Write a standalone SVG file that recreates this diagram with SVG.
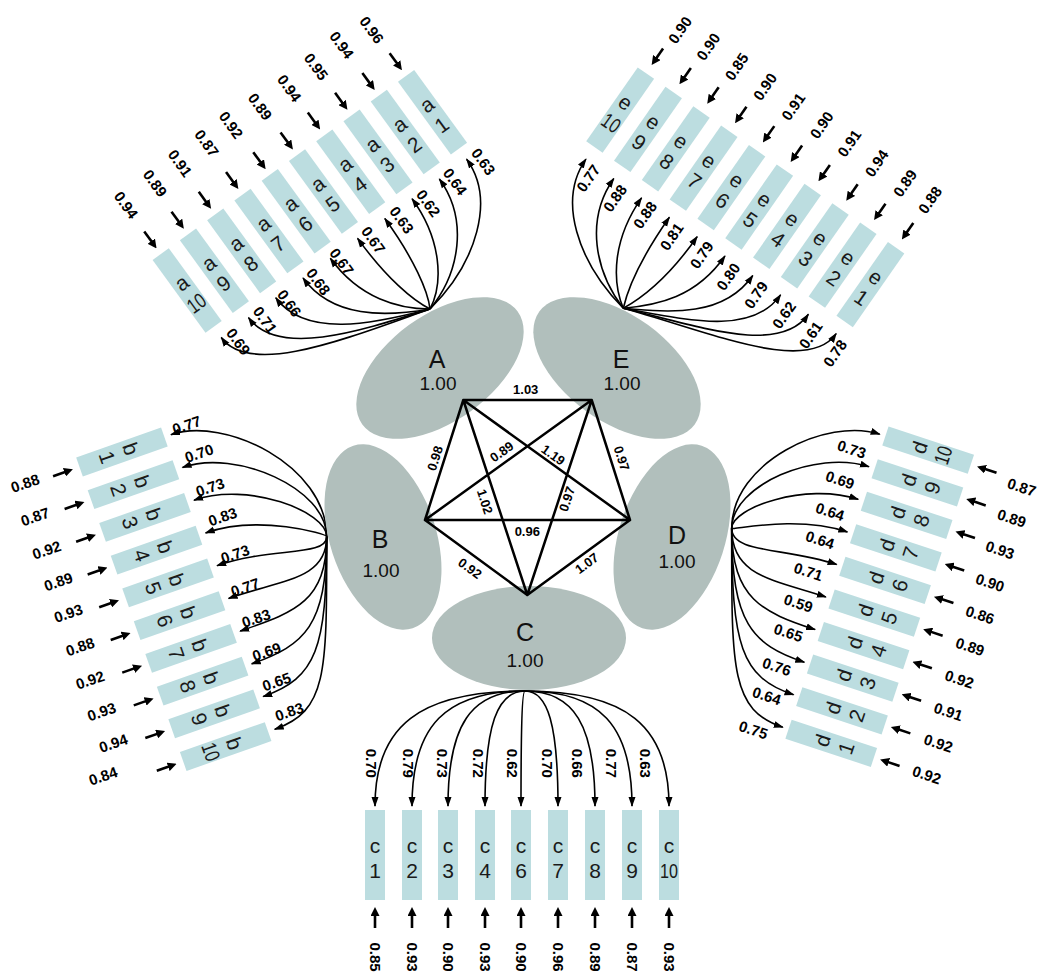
<svg xmlns="http://www.w3.org/2000/svg" width="1042" height="974" viewBox="0 0 1042 974">
<defs>
<style>
.box{fill:#bcdde0}
.lat{fill:#b1bfbc}
.bt{font-family:"Liberation Sans",Arial,sans-serif;font-size:21px;fill:#1a1a1a;text-anchor:middle}
.ld{fill:none;stroke:#000;stroke-width:1.6;marker-end:url(#ah)}
.er{fill:none;stroke:#000;stroke-width:2.6;marker-end:url(#eh)}
.edge{fill:none;stroke:#000;stroke-width:2.5;stroke-linecap:round}
.num{font-family:"Liberation Sans",Arial,sans-serif;font-size:15px;font-weight:bold;text-anchor:middle;fill:#000}
.pn{font-size:13px}
.ln{font-family:"Liberation Sans",Arial,sans-serif;font-size:25px;text-anchor:middle;fill:#111}
.lv{font-size:19px}
</style>
<marker id="ah" viewBox="0 0 10 8" markerWidth="10" markerHeight="8" refX="9" refY="4" orient="auto" markerUnits="userSpaceOnUse"><path d="M0,0.5 L10,4 L0,7.5 z"/></marker>
<marker id="eh" viewBox="0 0 9 9" markerWidth="9" markerHeight="9" refX="3" refY="4.5" orient="auto" markerUnits="userSpaceOnUse"><path d="M0,0 L9,4.5 L0,9 z"/></marker>
</defs>
<rect width="1042" height="974" fill="#fff"/>

<!-- connectors: loading curves, error arrows, latent correlations -->
<g id="connectors">
  <g id="load-A" transform="translate(430,309) rotate(144)">
    <path class="ld" d="M0,0 C-64.7,10 -117.7,49.9 -117.7,99.7"/>
    <path class="ld" d="M0,0 C-45.3,11.6 -84,49.9 -84,99.7"/>
    <path class="ld" d="M0,0 C-26.6,13.3 -50.3,49.9 -50.3,99.7"/>
    <path class="ld" d="M0,0 C-8.6,15 -16.6,49.9 -16.6,99.7"/>
    <path class="ld" d="M0,0 C8.7,16.6 17.1,49.9 17.1,99.7"/>
    <path class="ld" d="M0,0 C25.1,18.3 50.8,49.9 50.8,99.7"/>
    <path class="ld" d="M0,0 C40.8,19.9 84.5,49.9 84.5,99.7"/>
    <path class="ld" d="M0,0 C55.8,21.6 118.2,49.9 118.2,99.7"/>
    <path class="ld" d="M0,0 C70,23.3 151.9,49.9 151.9,99.7"/>
    <path class="ld" d="M0,0 C83.5,24.9 185.6,49.9 185.6,99.7"/>
    <path class="er" d="M-117.7,230.7 V215.7"/>
    <path class="er" d="M-84,230.7 V215.7"/>
    <path class="er" d="M-50.3,230.7 V215.7"/>
    <path class="er" d="M-16.6,230.7 V215.7"/>
    <path class="er" d="M17.1,230.7 V215.7"/>
    <path class="er" d="M50.8,230.7 V215.7"/>
    <path class="er" d="M84.5,230.7 V215.7"/>
    <path class="er" d="M118.2,230.7 V215.7"/>
    <path class="er" d="M151.9,230.7 V215.7"/>
    <path class="er" d="M185.6,230.7 V215.7"/>
  </g>
  <g id="load-E" transform="translate(623.3,308.3) rotate(-145.1)">
    <path class="ld" d="M0,0 C-85.1,30.3 -189.1,50.5 -189.1,101"/>
    <path class="ld" d="M0,0 C-71.5,28.3 -155.2,50.5 -155.2,101"/>
    <path class="ld" d="M0,0 C-57.3,26.3 -121.3,50.5 -121.3,101"/>
    <path class="ld" d="M0,0 C-42.2,24.2 -87.4,50.5 -87.4,101"/>
    <path class="ld" d="M0,0 C-26.4,22.2 -53.5,50.5 -53.5,101"/>
    <path class="ld" d="M0,0 C-9.9,20.2 -19.6,50.5 -19.6,101"/>
    <path class="ld" d="M0,0 C7.4,18.2 14.3,50.5 14.3,101"/>
    <path class="ld" d="M0,0 C25.4,16.2 48.2,50.5 48.2,101"/>
    <path class="ld" d="M0,0 C44.3,14.1 82.1,50.5 82.1,101"/>
    <path class="ld" d="M0,0 C63.8,12.1 116,50.5 116,101"/>
    <path class="er" d="M-189.1,235.8 V221.8"/>
    <path class="er" d="M-155.2,235.8 V221.8"/>
    <path class="er" d="M-121.3,235.8 V221.8"/>
    <path class="er" d="M-87.4,235.8 V221.8"/>
    <path class="er" d="M-53.5,235.8 V221.8"/>
    <path class="er" d="M-19.6,235.8 V221.8"/>
    <path class="er" d="M14.3,235.8 V221.8"/>
    <path class="er" d="M48.2,235.8 V221.8"/>
    <path class="er" d="M82.1,235.8 V221.8"/>
    <path class="er" d="M116,235.8 V221.8"/>
  </g>
  <g id="load-B" transform="translate(326.7,536.7) rotate(70.6)">
    <path class="ld" d="M0,0 C-67.3,-23.7 -147.9,56.5 -147.9,113"/>
    <path class="ld" d="M0,0 C-45.7,-16.1 -113.2,56.5 -113.2,113"/>
    <path class="ld" d="M0,0 C-24.1,-8.5 -78.5,56.5 -78.5,113"/>
    <path class="ld" d="M0,0 C-2.5,-0.9 -43.8,56.5 -43.8,113"/>
    <path class="ld" d="M0,0 C19.1,6.7 -9.1,56.5 -9.1,113"/>
    <path class="ld" d="M0,0 C40.7,14.3 25.6,56.5 25.6,113"/>
    <path class="ld" d="M0,0 C62.3,22 60.3,56.5 60.3,113"/>
    <path class="ld" d="M0,0 C83.9,29.6 95,56.5 95,113"/>
    <path class="ld" d="M0,0 C105.5,37.2 129.7,56.5 129.7,113"/>
    <path class="ld" d="M0,0 C127.2,44.8 164.4,56.5 164.4,113"/>
    <path class="er" d="M-147.9,238 V223"/>
    <path class="er" d="M-113.2,238 V223"/>
    <path class="er" d="M-78.5,238 V223"/>
    <path class="er" d="M-43.8,238 V223"/>
    <path class="er" d="M-9.1,238 V223"/>
    <path class="er" d="M25.6,238 V223"/>
    <path class="er" d="M60.3,238 V223"/>
    <path class="er" d="M95,238 V223"/>
    <path class="er" d="M129.7,238 V223"/>
    <path class="er" d="M164.4,238 V223"/>
  </g>
  <g id="load-D" transform="translate(731.7,528.3) rotate(-71.7)">
    <path class="ld" d="M0,0 C-132.3,43.7 -172.9,55.5 -172.9,111"/>
    <path class="ld" d="M0,0 C-110.6,36.6 -138.6,55.5 -138.6,111"/>
    <path class="ld" d="M0,0 C-89,29.4 -104.3,55.5 -104.3,111"/>
    <path class="ld" d="M0,0 C-67.3,22.3 -70,55.5 -70,111"/>
    <path class="ld" d="M0,0 C-45.7,15.1 -35.7,55.5 -35.7,111"/>
    <path class="ld" d="M0,0 C-24,7.9 -1.4,55.5 -1.4,111"/>
    <path class="ld" d="M0,0 C-2.4,0.8 32.9,55.5 32.9,111"/>
    <path class="ld" d="M0,0 C19.3,-6.4 67.2,55.5 67.2,111"/>
    <path class="ld" d="M0,0 C40.9,-13.5 101.5,55.5 101.5,111"/>
    <path class="ld" d="M0,0 C62.6,-20.7 135.8,55.5 135.8,111"/>
    <path class="er" d="M-172.9,234 V219.5"/>
    <path class="er" d="M-138.6,234 V219.5"/>
    <path class="er" d="M-104.3,234 V219.5"/>
    <path class="er" d="M-70,234 V219.5"/>
    <path class="er" d="M-35.7,234 V219.5"/>
    <path class="er" d="M-1.4,234 V219.5"/>
    <path class="er" d="M32.9,234 V219.5"/>
    <path class="er" d="M67.2,234 V219.5"/>
    <path class="er" d="M101.5,234 V219.5"/>
    <path class="er" d="M135.8,234 V219.5"/>
  </g>
  <g id="load-C">
    <path class="ld" d="M525,691 C420,691 375,725.5 375,806"/>
    <path class="ld" d="M525,691 C445.9,691 412,725.5 412,806"/>
    <path class="ld" d="M525,691 C471.1,691 448,725.5 448,806"/>
    <path class="ld" d="M525,691 C497,691 485,725.5 485,806"/>
    <path class="ld" d="M525,691 C522.2,691 521,725.5 521,806"/>
    <path class="ld" d="M525,691 C548.1,691 558,725.5 558,806"/>
    <path class="ld" d="M525,691 C574,691 595,725.5 595,806"/>
    <path class="ld" d="M525,691 C599.9,691 632,725.5 632,806"/>
    <path class="ld" d="M525,691 C625.8,691 669,725.5 669,806"/>
    <path class="er" d="M375,928 V913"/>
    <path class="er" d="M412,928 V913"/>
    <path class="er" d="M448,928 V913"/>
    <path class="er" d="M485,928 V913"/>
    <path class="er" d="M521,928 V913"/>
    <path class="er" d="M558,928 V913"/>
    <path class="er" d="M595,928 V913"/>
    <path class="er" d="M632,928 V913"/>
    <path class="er" d="M669,928 V913"/>
  </g>
</g>

<!-- latent factors -->
<g id="latents">
  <g id="A"><ellipse class="lat" cx="440" cy="368" rx="96" ry="53" transform="rotate(-36 440 368)"/><text class="ln" x="437" y="368">A</text><text class="ln lv" x="438" y="390">1.00</text></g>
  <g id="E"><ellipse class="lat" cx="617" cy="368" rx="96" ry="53" transform="rotate(36 617 368)"/><text class="ln" x="621" y="368">E</text><text class="ln lv" x="622" y="390">1.00</text></g>
  <g id="B"><ellipse class="lat" cx="383" cy="537" rx="96" ry="53" transform="rotate(72 383 537)"/><text class="ln" x="380" y="548">B</text><text class="ln lv" x="381" y="577">1.00</text></g>
  <g id="D"><ellipse class="lat" cx="672" cy="537" rx="96" ry="53" transform="rotate(-72 672 537)"/><text class="ln" x="677" y="544">D</text><text class="ln lv" x="677" y="568">1.00</text></g>
  <g id="C"><ellipse class="lat" cx="529" cy="638" rx="97" ry="52"/><text class="ln" x="525" y="641">C</text><text class="ln lv" x="525" y="667">1.00</text></g>
</g>

<!-- correlations between factors -->
<g id="correlations">
  <path class="edge" d="M463.3,400 L591.7,400 M463.3,400 L425,520 M463.3,400 L527.3,595 M463.3,400 L630,520 M591.7,400 L425,520 M591.7,400 L527.3,595 M591.7,400 L630,520 M425,520 L630,520 M425,520 L527.3,595 M527.3,595 L630,520"/>
  <text class="num pn" transform="translate(525.7,389.3)" dy="0.35em">1.03</text>
  <text class="num pn" transform="translate(435,458.3) rotate(-72.3)" dy="0.35em">0.98</text>
  <text class="num pn" transform="translate(501.7,451.7) rotate(-35.8)" dy="0.35em">0.89</text>
  <text class="num pn" transform="translate(553.3,455) rotate(35.8)" dy="0.35em">1.19</text>
  <text class="num pn" transform="translate(621.7,458.3) rotate(72.3)" dy="0.35em">0.97</text>
  <text class="num pn" transform="translate(485,501.7) rotate(71.8)" dy="0.35em">1.02</text>
  <text class="num pn" transform="translate(567,499) rotate(-71.7)" dy="0.35em">0.97</text>
  <text class="num pn" transform="translate(527.3,531.7)" dy="0.35em">0.96</text>
  <text class="num pn" transform="translate(470,568.3) rotate(36.2)" dy="0.35em">0.92</text>
  <text class="num pn" transform="translate(586.7,563.3) rotate(-36.1)" dy="0.35em">1.07</text>
</g>

<!-- indicator boxes -->
<g id="indicators-A" transform="translate(430,309) rotate(144)">
  <g id="a1" transform="translate(-117.7,157.7) rotate(180)"><rect class="box" x="-10" y="-45" width="20" height="90"/><text class="bt" y="-2">a</text><text class="bt" y="23">1</text></g>
  <g id="a2" transform="translate(-84,157.7) rotate(180)"><rect class="box" x="-10" y="-45" width="20" height="90"/><text class="bt" y="-2">a</text><text class="bt" y="23">2</text></g>
  <g id="a3" transform="translate(-50.3,157.7) rotate(180)"><rect class="box" x="-10" y="-45" width="20" height="90"/><text class="bt" y="-2">a</text><text class="bt" y="23">3</text></g>
  <g id="a4" transform="translate(-16.6,157.7) rotate(180)"><rect class="box" x="-10" y="-45" width="20" height="90"/><text class="bt" y="-2">a</text><text class="bt" y="23">4</text></g>
  <g id="a5" transform="translate(17.1,157.7) rotate(180)"><rect class="box" x="-10" y="-45" width="20" height="90"/><text class="bt" y="-2">a</text><text class="bt" y="23">5</text></g>
  <g id="a6" transform="translate(50.8,157.7) rotate(180)"><rect class="box" x="-10" y="-45" width="20" height="90"/><text class="bt" y="-2">a</text><text class="bt" y="23">6</text></g>
  <g id="a7" transform="translate(84.5,157.7) rotate(180)"><rect class="box" x="-10" y="-45" width="20" height="90"/><text class="bt" y="-2">a</text><text class="bt" y="23">7</text></g>
  <g id="a8" transform="translate(118.2,157.7) rotate(180)"><rect class="box" x="-10" y="-45" width="20" height="90"/><text class="bt" y="-2">a</text><text class="bt" y="23">8</text></g>
  <g id="a9" transform="translate(151.9,157.7) rotate(180)"><rect class="box" x="-10" y="-45" width="20" height="90"/><text class="bt" y="-2">a</text><text class="bt" y="23">9</text></g>
  <g id="a10" transform="translate(185.6,157.7) rotate(180)"><rect class="box" x="-10" y="-45" width="20" height="90"/><text class="bt" y="-2">a</text><text class="bt" y="23" textLength="18" lengthAdjust="spacingAndGlyphs">10</text></g>
</g>
<g id="indicators-E" transform="translate(623.3,308.3) rotate(-145.1)">
  <g id="e1" transform="translate(-189.1,160.8) rotate(180)"><rect class="box" x="-10" y="-45" width="20" height="90"/><text class="bt" y="-2">e</text><text class="bt" y="23">1</text></g>
  <g id="e2" transform="translate(-155.2,160.8) rotate(180)"><rect class="box" x="-10" y="-45" width="20" height="90"/><text class="bt" y="-2">e</text><text class="bt" y="23">2</text></g>
  <g id="e3" transform="translate(-121.3,160.8) rotate(180)"><rect class="box" x="-10" y="-45" width="20" height="90"/><text class="bt" y="-2">e</text><text class="bt" y="23">3</text></g>
  <g id="e4" transform="translate(-87.4,160.8) rotate(180)"><rect class="box" x="-10" y="-45" width="20" height="90"/><text class="bt" y="-2">e</text><text class="bt" y="23">4</text></g>
  <g id="e5" transform="translate(-53.5,160.8) rotate(180)"><rect class="box" x="-10" y="-45" width="20" height="90"/><text class="bt" y="-2">e</text><text class="bt" y="23">5</text></g>
  <g id="e6" transform="translate(-19.6,160.8) rotate(180)"><rect class="box" x="-10" y="-45" width="20" height="90"/><text class="bt" y="-2">e</text><text class="bt" y="23">6</text></g>
  <g id="e7" transform="translate(14.3,160.8) rotate(180)"><rect class="box" x="-10" y="-45" width="20" height="90"/><text class="bt" y="-2">e</text><text class="bt" y="23">7</text></g>
  <g id="e8" transform="translate(48.2,160.8) rotate(180)"><rect class="box" x="-10" y="-45" width="20" height="90"/><text class="bt" y="-2">e</text><text class="bt" y="23">8</text></g>
  <g id="e9" transform="translate(82.1,160.8) rotate(180)"><rect class="box" x="-10" y="-45" width="20" height="90"/><text class="bt" y="-2">e</text><text class="bt" y="23">9</text></g>
  <g id="e10" transform="translate(116,160.8) rotate(180)"><rect class="box" x="-10" y="-45" width="20" height="90"/><text class="bt" y="-2">e</text><text class="bt" y="23" textLength="18" lengthAdjust="spacingAndGlyphs">10</text></g>
</g>
<g id="indicators-B" transform="translate(326.7,536.7) rotate(70.6)">
  <g id="b1" transform="translate(-147.9,165)"><rect class="box" x="-10" y="-45" width="20" height="90"/><text class="bt" y="-2">b</text><text class="bt" y="23">1</text></g>
  <g id="b2" transform="translate(-113.2,165)"><rect class="box" x="-10" y="-45" width="20" height="90"/><text class="bt" y="-2">b</text><text class="bt" y="23">2</text></g>
  <g id="b3" transform="translate(-78.5,165)"><rect class="box" x="-10" y="-45" width="20" height="90"/><text class="bt" y="-2">b</text><text class="bt" y="23">3</text></g>
  <g id="b4" transform="translate(-43.8,165)"><rect class="box" x="-10" y="-45" width="20" height="90"/><text class="bt" y="-2">b</text><text class="bt" y="23">4</text></g>
  <g id="b5" transform="translate(-9.1,165)"><rect class="box" x="-10" y="-45" width="20" height="90"/><text class="bt" y="-2">b</text><text class="bt" y="23">5</text></g>
  <g id="b6" transform="translate(25.6,165)"><rect class="box" x="-10" y="-45" width="20" height="90"/><text class="bt" y="-2">b</text><text class="bt" y="23">6</text></g>
  <g id="b7" transform="translate(60.3,165)"><rect class="box" x="-10" y="-45" width="20" height="90"/><text class="bt" y="-2">b</text><text class="bt" y="23">7</text></g>
  <g id="b8" transform="translate(95,165)"><rect class="box" x="-10" y="-45" width="20" height="90"/><text class="bt" y="-2">b</text><text class="bt" y="23">8</text></g>
  <g id="b9" transform="translate(129.7,165)"><rect class="box" x="-10" y="-45" width="20" height="90"/><text class="bt" y="-2">b</text><text class="bt" y="23">9</text></g>
  <g id="b10" transform="translate(164.4,165)"><rect class="box" x="-10" y="-45" width="20" height="90"/><text class="bt" y="-2">b</text><text class="bt" y="23" textLength="18" lengthAdjust="spacingAndGlyphs">10</text></g>
</g>
<g id="indicators-D" transform="translate(731.7,528.3) rotate(-71.7)">
  <g id="d1" transform="translate(-172.9,162)"><rect class="box" x="-10" y="-45" width="20" height="90"/><text class="bt" y="-2">d</text><text class="bt" y="23">1</text></g>
  <g id="d2" transform="translate(-138.6,162)"><rect class="box" x="-10" y="-45" width="20" height="90"/><text class="bt" y="-2">d</text><text class="bt" y="23">2</text></g>
  <g id="d3" transform="translate(-104.3,162)"><rect class="box" x="-10" y="-45" width="20" height="90"/><text class="bt" y="-2">d</text><text class="bt" y="23">3</text></g>
  <g id="d4" transform="translate(-70,162)"><rect class="box" x="-10" y="-45" width="20" height="90"/><text class="bt" y="-2">d</text><text class="bt" y="23">4</text></g>
  <g id="d5" transform="translate(-35.7,162)"><rect class="box" x="-10" y="-45" width="20" height="90"/><text class="bt" y="-2">d</text><text class="bt" y="23">5</text></g>
  <g id="d6" transform="translate(-1.4,162)"><rect class="box" x="-10" y="-45" width="20" height="90"/><text class="bt" y="-2">d</text><text class="bt" y="23">6</text></g>
  <g id="d7" transform="translate(32.9,162)"><rect class="box" x="-10" y="-45" width="20" height="90"/><text class="bt" y="-2">d</text><text class="bt" y="23">7</text></g>
  <g id="d8" transform="translate(67.2,162)"><rect class="box" x="-10" y="-45" width="20" height="90"/><text class="bt" y="-2">d</text><text class="bt" y="23">8</text></g>
  <g id="d9" transform="translate(101.5,162)"><rect class="box" x="-10" y="-45" width="20" height="90"/><text class="bt" y="-2">d</text><text class="bt" y="23">9</text></g>
  <g id="d10" transform="translate(135.8,162)"><rect class="box" x="-10" y="-45" width="20" height="90"/><text class="bt" y="-2">d</text><text class="bt" y="23" textLength="18" lengthAdjust="spacingAndGlyphs">10</text></g>
</g>
<g id="indicators-C">
  <g id="c1" transform="translate(375,855)"><rect class="box" x="-10" y="-45" width="20" height="90"/><text class="bt" y="-2">c</text><text class="bt" y="23">1</text></g>
  <g id="c2" transform="translate(412,855)"><rect class="box" x="-10" y="-45" width="20" height="90"/><text class="bt" y="-2">c</text><text class="bt" y="23">2</text></g>
  <g id="c3" transform="translate(448,855)"><rect class="box" x="-10" y="-45" width="20" height="90"/><text class="bt" y="-2">c</text><text class="bt" y="23">3</text></g>
  <g id="c4" transform="translate(485,855)"><rect class="box" x="-10" y="-45" width="20" height="90"/><text class="bt" y="-2">c</text><text class="bt" y="23">4</text></g>
  <g id="c6" transform="translate(521,855)"><rect class="box" x="-10" y="-45" width="20" height="90"/><text class="bt" y="-2">c</text><text class="bt" y="23">6</text></g>
  <g id="c7" transform="translate(558,855)"><rect class="box" x="-10" y="-45" width="20" height="90"/><text class="bt" y="-2">c</text><text class="bt" y="23">7</text></g>
  <g id="c8" transform="translate(595,855)"><rect class="box" x="-10" y="-45" width="20" height="90"/><text class="bt" y="-2">c</text><text class="bt" y="23">8</text></g>
  <g id="c9" transform="translate(632,855)"><rect class="box" x="-10" y="-45" width="20" height="90"/><text class="bt" y="-2">c</text><text class="bt" y="23">9</text></g>
  <g id="c10" transform="translate(669,855)"><rect class="box" x="-10" y="-45" width="20" height="90"/><text class="bt" y="-2">c</text><text class="bt" y="23" textLength="18" lengthAdjust="spacingAndGlyphs">10</text></g>
</g>

<!-- loading and error values -->
<g id="values">
  <!-- factor A -->
  <text class="num" transform="translate(483.3,161.7) rotate(54)" dy="0.35em">0.63</text>
  <text class="num" transform="translate(455,181.7) rotate(54)" dy="0.35em">0.64</text>
  <text class="num" transform="translate(428.3,203.3) rotate(54)" dy="0.35em">0.62</text>
  <text class="num" transform="translate(401.7,220) rotate(54)" dy="0.35em">0.63</text>
  <text class="num" transform="translate(373.3,240) rotate(54)" dy="0.35em">0.67</text>
  <text class="num" transform="translate(341.7,261.7) rotate(54)" dy="0.35em">0.67</text>
  <text class="num" transform="translate(318.3,281.7) rotate(54)" dy="0.35em">0.68</text>
  <text class="num" transform="translate(289.3,303.3) rotate(54)" dy="0.35em">0.66</text>
  <text class="num" transform="translate(265,320) rotate(54)" dy="0.35em">0.71</text>
  <text class="num" transform="translate(238.3,341.7) rotate(54)" dy="0.35em">0.69</text>
  <text class="num" transform="translate(371.7,30) rotate(54)" dy="0.35em">0.96</text>
  <text class="num" transform="translate(341.7,45) rotate(54)" dy="0.35em">0.94</text>
  <text class="num" transform="translate(316,66.7) rotate(54)" dy="0.35em">0.95</text>
  <text class="num" transform="translate(289.3,88.3) rotate(54)" dy="0.35em">0.94</text>
  <text class="num" transform="translate(260,106.7) rotate(54)" dy="0.35em">0.89</text>
  <text class="num" transform="translate(231,125) rotate(54)" dy="0.35em">0.92</text>
  <text class="num" transform="translate(206.7,143.3) rotate(54)" dy="0.35em">0.87</text>
  <text class="num" transform="translate(180,163.3) rotate(54)" dy="0.35em">0.91</text>
  <text class="num" transform="translate(155,183.3) rotate(54)" dy="0.35em">0.89</text>
  <text class="num" transform="translate(126,205) rotate(54)" dy="0.35em">0.94</text>
  <!-- factor E -->
  <text class="num" transform="translate(588.3,178.3) rotate(-55)" dy="0.35em">0.77</text>
  <text class="num" transform="translate(615,198.3) rotate(-55)" dy="0.35em">0.88</text>
  <text class="num" transform="translate(645,215) rotate(-55)" dy="0.35em">0.88</text>
  <text class="num" transform="translate(671.7,236.7) rotate(-55)" dy="0.35em">0.81</text>
  <text class="num" transform="translate(701.7,255) rotate(-55)" dy="0.35em">0.79</text>
  <text class="num" transform="translate(728.3,276.7) rotate(-55)" dy="0.35em">0.80</text>
  <text class="num" transform="translate(756,295) rotate(-55)" dy="0.35em">0.79</text>
  <text class="num" transform="translate(784,315) rotate(-55)" dy="0.35em">0.62</text>
  <text class="num" transform="translate(810.7,335) rotate(-55)" dy="0.35em">0.61</text>
  <text class="num" transform="translate(835,353.3) rotate(-55)" dy="0.35em">0.78</text>
  <text class="num" transform="translate(680,30) rotate(-55)" dy="0.35em">0.90</text>
  <text class="num" transform="translate(708.3,46.7) rotate(-55)" dy="0.35em">0.90</text>
  <text class="num" transform="translate(736.7,66.7) rotate(-55)" dy="0.35em">0.85</text>
  <text class="num" transform="translate(765,86.7) rotate(-55)" dy="0.35em">0.90</text>
  <text class="num" transform="translate(793.3,106.7) rotate(-55)" dy="0.35em">0.91</text>
  <text class="num" transform="translate(821.7,125) rotate(-55)" dy="0.35em">0.90</text>
  <text class="num" transform="translate(849.3,143.3) rotate(-55)" dy="0.35em">0.91</text>
  <text class="num" transform="translate(876.7,163.3) rotate(-55)" dy="0.35em">0.94</text>
  <text class="num" transform="translate(905,183.3) rotate(-55)" dy="0.35em">0.89</text>
  <text class="num" transform="translate(930,200) rotate(-55)" dy="0.35em">0.88</text>
  <!-- factor B -->
  <text class="num" transform="translate(186.7,425) rotate(-19)" dy="0.35em">0.77</text>
  <text class="num" transform="translate(199,453.3) rotate(-19)" dy="0.35em">0.70</text>
  <text class="num" transform="translate(210,487.3) rotate(-19)" dy="0.35em">0.73</text>
  <text class="num" transform="translate(222.7,516.7) rotate(-19)" dy="0.35em">0.83</text>
  <text class="num" transform="translate(235,554) rotate(-19)" dy="0.35em">0.73</text>
  <text class="num" transform="translate(245,587.3) rotate(-19)" dy="0.35em">0.77</text>
  <text class="num" transform="translate(256,618.3) rotate(-19)" dy="0.35em">0.83</text>
  <text class="num" transform="translate(266.7,651.7) rotate(-19)" dy="0.35em">0.69</text>
  <text class="num" transform="translate(276.7,681.7) rotate(-19)" dy="0.35em">0.65</text>
  <text class="num" transform="translate(289.3,711.7) rotate(-19)" dy="0.35em">0.83</text>
  <text class="num" transform="translate(25,483.3) rotate(-19)" dy="0.35em">0.88</text>
  <text class="num" transform="translate(35,516.7) rotate(-19)" dy="0.35em">0.87</text>
  <text class="num" transform="translate(46.7,550) rotate(-19)" dy="0.35em">0.92</text>
  <text class="num" transform="translate(58.3,581.7) rotate(-19)" dy="0.35em">0.89</text>
  <text class="num" transform="translate(68.3,613.3) rotate(-19)" dy="0.35em">0.93</text>
  <text class="num" transform="translate(80,646.7) rotate(-19)" dy="0.35em">0.88</text>
  <text class="num" transform="translate(90,680) rotate(-19)" dy="0.35em">0.92</text>
  <text class="num" transform="translate(101.7,711.7) rotate(-19)" dy="0.35em">0.93</text>
  <text class="num" transform="translate(113.3,743.3) rotate(-19)" dy="0.35em">0.94</text>
  <text class="num" transform="translate(103,776) rotate(-19)" dy="0.35em">0.84</text>
  <!-- factor D -->
  <text class="num" transform="translate(851.7,449.3) rotate(18)" dy="0.35em">0.73</text>
  <text class="num" transform="translate(840,480) rotate(18)" dy="0.35em">0.69</text>
  <text class="num" transform="translate(830,511.7) rotate(18)" dy="0.35em">0.64</text>
  <text class="num" transform="translate(820,540) rotate(18)" dy="0.35em">0.64</text>
  <text class="num" transform="translate(808.3,571.7) rotate(18)" dy="0.35em">0.71</text>
  <text class="num" transform="translate(798.3,603.3) rotate(18)" dy="0.35em">0.59</text>
  <text class="num" transform="translate(788.3,632.7) rotate(18)" dy="0.35em">0.65</text>
  <text class="num" transform="translate(776.7,666.7) rotate(18)" dy="0.35em">0.76</text>
  <text class="num" transform="translate(766.7,696) rotate(18)" dy="0.35em">0.64</text>
  <text class="num" transform="translate(753.3,730) rotate(18)" dy="0.35em">0.75</text>
  <text class="num" transform="translate(1021.7,487.3) rotate(18)" dy="0.35em">0.87</text>
  <text class="num" transform="translate(1011.7,518.3) rotate(18)" dy="0.35em">0.89</text>
  <text class="num" transform="translate(1000,550) rotate(18)" dy="0.35em">0.93</text>
  <text class="num" transform="translate(990,582.7) rotate(18)" dy="0.35em">0.90</text>
  <text class="num" transform="translate(980,615) rotate(18)" dy="0.35em">0.86</text>
  <text class="num" transform="translate(970,646.7) rotate(18)" dy="0.35em">0.89</text>
  <text class="num" transform="translate(959.3,679.3) rotate(18)" dy="0.35em">0.92</text>
  <text class="num" transform="translate(948.3,711.7) rotate(18)" dy="0.35em">0.91</text>
  <text class="num" transform="translate(938.3,743.3) rotate(18)" dy="0.35em">0.92</text>
  <text class="num" transform="translate(926.7,775) rotate(18)" dy="0.35em">0.92</text>
  <!-- factor C -->
  <text class="num" transform="translate(371.7,763.3) rotate(90)" dy="0.35em">0.70</text>
  <text class="num" transform="translate(408.3,763.3) rotate(90)" dy="0.35em">0.79</text>
  <text class="num" transform="translate(442.3,763.3) rotate(90)" dy="0.35em">0.73</text>
  <text class="num" transform="translate(478.3,763.3) rotate(90)" dy="0.35em">0.72</text>
  <text class="num" transform="translate(512.3,763.3) rotate(90)" dy="0.35em">0.62</text>
  <text class="num" transform="translate(547.7,763.3) rotate(90)" dy="0.35em">0.70</text>
  <text class="num" transform="translate(577.7,763.3) rotate(90)" dy="0.35em">0.66</text>
  <text class="num" transform="translate(611,763.3) rotate(90)" dy="0.35em">0.77</text>
  <text class="num" transform="translate(645,763.3) rotate(90)" dy="0.35em">0.63</text>
  <text class="num" transform="translate(375,957) rotate(90)" dy="0.35em">0.85</text>
  <text class="num" transform="translate(412,957) rotate(90)" dy="0.35em">0.93</text>
  <text class="num" transform="translate(448,957) rotate(90)" dy="0.35em">0.90</text>
  <text class="num" transform="translate(485,957) rotate(90)" dy="0.35em">0.93</text>
  <text class="num" transform="translate(521,957) rotate(90)" dy="0.35em">0.90</text>
  <text class="num" transform="translate(558,957) rotate(90)" dy="0.35em">0.96</text>
  <text class="num" transform="translate(595,957) rotate(90)" dy="0.35em">0.89</text>
  <text class="num" transform="translate(632,957) rotate(90)" dy="0.35em">0.87</text>
  <text class="num" transform="translate(669,957) rotate(90)" dy="0.35em">0.93</text>
</g>
</svg>
